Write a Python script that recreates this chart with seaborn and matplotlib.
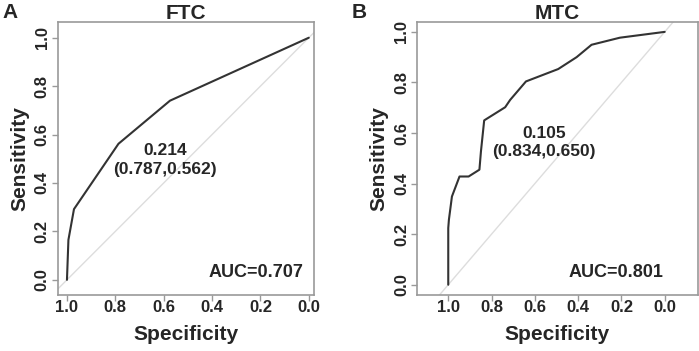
import matplotlib
matplotlib.use("Agg")
import matplotlib.pyplot as plt
import seaborn as sns
import pandas as pd

# ROC curve points
ftc_spec = [1.0, 0.994, 0.971, 0.787, 0.574, 0.0]
ftc_sens = [0.0, 0.165, 0.292, 0.562, 0.740, 1.0]

mtc_spec = [1.0, 1.0, 0.997, 0.983, 0.948, 0.906, 0.856, 0.849, 0.834,
            0.737, 0.714, 0.641, 0.492, 0.407, 0.338, 0.207, 0.0]
mtc_sens = [0.0, 0.224, 0.257, 0.349, 0.428, 0.428, 0.455, 0.527, 0.650,
            0.702, 0.731, 0.804, 0.853, 0.900, 0.949, 0.977, 1.0]

ticks = [0.0, 0.2, 0.4, 0.6, 0.8, 1.0]
tick_labels = ["0.0", "0.2", "0.4", "0.6", "0.8", "1.0"]

sns.set_style("white")
plt.rcParams['font.family'] = ['Liberation Sans', 'DejaVu Sans']
plt.rcParams['font.weight'] = 'bold'

fig = plt.figure(figsize=(6.99, 3.51), dpi=100)
ax1 = fig.add_axes([0.083, 0.160, 0.366, 0.778])
ax2 = fig.add_axes([0.597, 0.160, 0.401, 0.778])

panels = [
    (ax1, ftc_spec, ftc_sens, "FTC", "0.214", "(0.787,0.562)", "AUC=0.707",
     (1.037, -0.021), (-0.062, 1.066), (0.593, 0.533), (0.593, 0.455), (0.021, 0.03)),
    (ax2, mtc_spec, mtc_sens, "MTC", "0.105", "(0.834,0.650)", "AUC=0.801",
     (1.143, -0.152), (-0.04, 1.04), (0.556, 0.600), (0.557, 0.527), (0.008, 0.047)),
]

for ax, spec, sens, title, thr, coords, auc, xl, yl, p1, p2, pa in panels:
    df = pd.DataFrame({'Specificity': spec, 'Sensitivity': sens})
    ax.axline((1, 0), (0, 1), color='#dddddd', lw=1)
    sns.lineplot(data=df, x='Specificity', y='Sensitivity', sort=False,
                 estimator=None, color='#333333', lw=1.5, ax=ax)
    ax.set_xlim(*xl)
    ax.set_ylim(*yl)
    ax.set_xticks(ticks)
    ax.set_xticklabels(tick_labels, fontsize=12, fontweight='bold')
    ax.set_yticks(ticks)
    ax.set_yticklabels(tick_labels, fontsize=12, fontweight='bold', rotation=90, va='center')
    ax.tick_params(axis='both', direction='out', length=4, width=1, color='#999999',
                   pad=2, bottom=True, left=True)
    ax.tick_params(axis='x', pad=0)
    for s in ax.spines.values():
        s.set_color('#999999')
        s.set_linewidth(1.2)
    ax.set_xlabel('Specificity', fontsize=15, fontweight='bold', labelpad=7)
    ax.set_ylabel('Sensitivity', fontsize=15, fontweight='bold', labelpad=4)
    ax.set_title(title, fontsize=15, fontweight='bold', pad=2)
    ax.text(p1[0], p1[1], thr, ha='center', va='center', fontsize=12.5, fontweight='bold')
    ax.text(p2[0], p2[1], coords, ha='center', va='center', fontsize=12.5, fontweight='bold')
    ax.text(pa[0], pa[1], auc, ha='right', va='center', fontsize=13, fontweight='bold')

fig.text(0.003, 0.965, "A", fontsize=15, fontweight='bold', va='center')
fig.text(0.503, 0.965, "B", fontsize=15, fontweight='bold', va='center')

fig.savefig('out.png', dpi=100)
